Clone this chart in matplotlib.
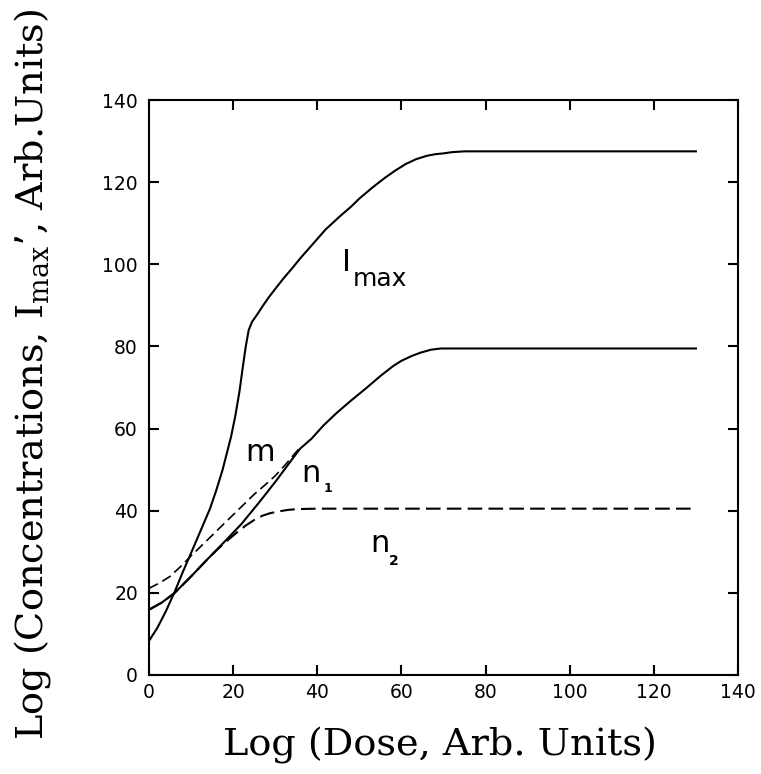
import matplotlib
matplotlib.use("Agg")
import matplotlib.pyplot as plt

# ---- data ----
imax_x = [0, 2, 4, 6, 8, 10, 12, 14.5, 16, 17.5, 18.5, 19.5, 20.5, 21.5, 22.3, 23, 23.7,
          24.5, 26, 27, 28.5, 30, 32, 34, 36, 39, 42, 45.5, 48, 50, 53, 56, 58.5, 61,
          63.5, 66, 68, 70, 72, 75, 130]
imax_y = [8.3, 11.5, 15.5, 20, 25, 29.7, 34.5, 40.5, 45, 50, 54, 58, 63, 69, 75, 80, 84,
          86, 88.2, 89.8, 92, 94, 96.6, 99, 101.5, 105, 108.5, 111.8, 114, 116, 118.6,
          121, 122.8, 124.4, 125.6, 126.4, 126.8, 127, 127.3, 127.5, 127.5]

n1_x = [0, 3, 6, 10, 14, 18, 22, 26, 30, 34, 35.9, 38.6, 41.5, 44.6, 48, 51.7, 55, 58,
        60, 62.5, 64.6, 67, 69.4, 130]
n1_y = [15.9, 17.6, 19.9, 24, 28.3, 32.5, 36.8, 41.8, 47, 52.5, 55.1, 57.5, 60.8, 63.8,
        66.8, 69.9, 72.8, 75.2, 76.5, 77.7, 78.5, 79.2, 79.5, 79.5]

m_x = [0, 2.5, 5, 7.5, 10, 12.5, 15, 17.5, 20, 22.5, 25, 27.5, 30, 32.5, 35.8]
m_y = [21.1, 22.4, 24, 26.4, 29, 31.5, 34, 36.5, 39, 41.5, 44, 46.2, 48.5, 51.3, 55.3]

n2_x = [0, 3, 6, 10, 14, 16.5, 18.8, 21, 23, 25.1, 27, 28.8, 30.7, 33, 35.4, 40, 130]
n2_y = [15.9, 17.6, 19.9, 24, 28.3, 30.8, 32.9, 34.8, 36.4, 37.8, 38.8, 39.4, 39.8,
        40.2, 40.4, 40.5, 40.5]

ticks = [0, 20, 40, 60, 80, 100, 120, 140]

# ---- figure ----
W, H = 761, 774
fig = plt.figure(figsize=(W / 100, H / 100), dpi=100)
ax = fig.add_axes([149 / W, 1 - 675 / H, (738 - 149) / W, (675 - 100) / H])

ax.plot(n2_x, n2_y, color="black", lw=1.5, dashes=(7, 3))
ax.plot(m_x, m_y, color="black", lw=1.2, dashes=(6, 3))
ax.plot(n1_x, n1_y, color="black", lw=1.5)
ax.plot(imax_x, imax_y, color="black", lw=1.5)

ax.set_xlim(0, 140)
ax.set_ylim(0, 140)
ax.set_xticks(ticks)
ax.set_yticks(ticks)
ax.set_xticklabels([str(t) for t in ticks])
ax.set_yticklabels([str(t) for t in ticks])
ax.tick_params(direction="in", length=7, width=1.5, top=True, right=True,
               labelsize=13.5, pad=8)
ax.tick_params(axis="x", pad=6)
for lab in ax.get_xticklabels() + ax.get_yticklabels():
    lab.set_family("DejaVu Sans")
for s in ax.spines.values():
    s.set_linewidth(1.5)

# curve labels
ax.text(22.8, 52, "m", fontsize=22, family="DejaVu Sans")
ax.text(36.3, 47, "n", fontsize=22, family="DejaVu Sans")
ax.text(41.4, 44.6, "1", fontsize=9, family="DejaVu Sans", weight="bold")
ax.text(52.5, 30, "n", fontsize=22, family="DejaVu Sans")
ax.text(57.0, 26.8, "2", fontsize=10, family="DejaVu Sans", weight="bold")
ax.text(45.8, 98.3, "I", fontsize=22, family="DejaVu Sans")
ax.text(48.5, 94.6, "max", fontsize=18, family="DejaVu Sans")

# axis labels
fig.text(0.5 * (222 + 657) / W, 1 - 745 / H, "Log (Dose, Arb. Units)",
         fontsize=27.5, family="DejaVu Serif", ha="center", va="center")
fig.text(33 / W, 1 - 374 / H,
         "Log (Concentrations, I$_{\\mathregular{max}}$\u2019, Arb.Units)",
         fontsize=27.5, family="DejaVu Serif", ha="center", va="center",
         rotation=90)

fig.savefig("out.png", dpi=100)
